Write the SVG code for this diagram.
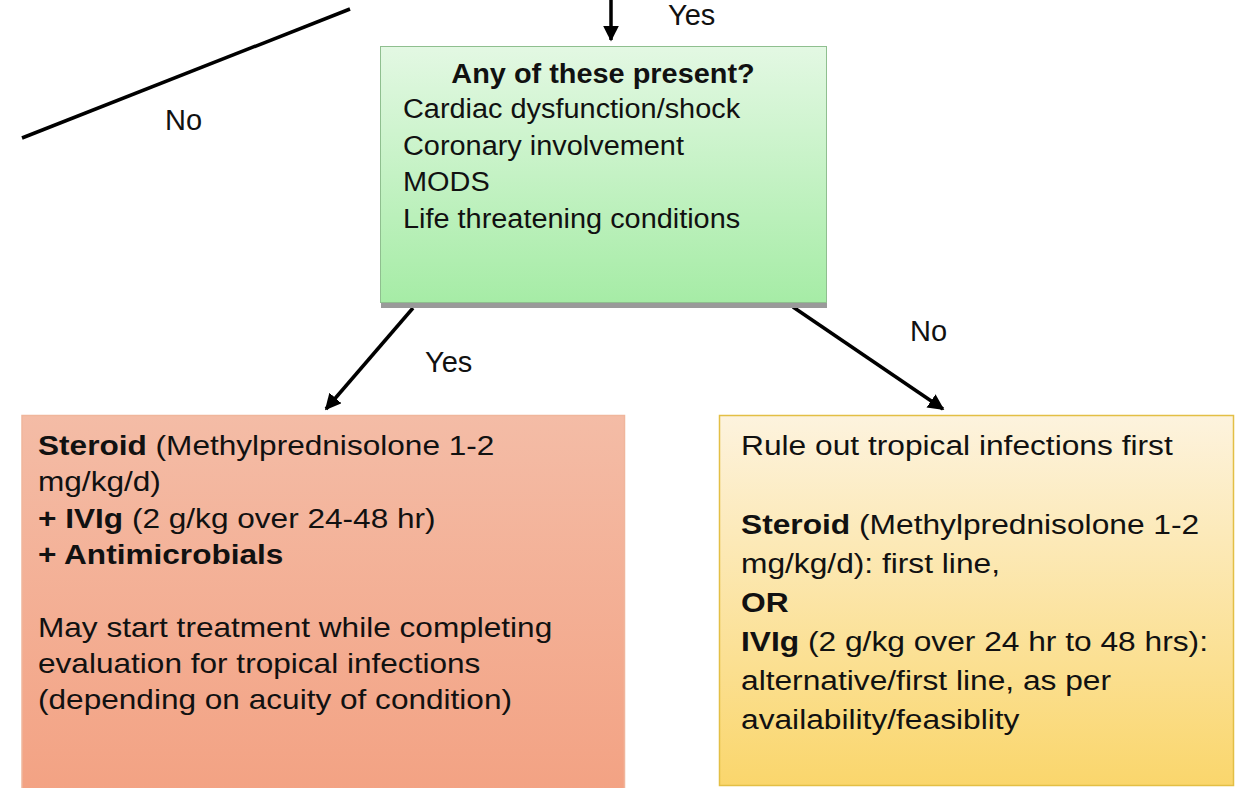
<svg xmlns="http://www.w3.org/2000/svg" width="1238" height="788" viewBox="0 0 1238 788">
<style>
text{font-family:"Liberation Sans",Arial,sans-serif;fill:#111}
.t{font-size:27px}
.b{font-weight:bold}
.lbl{font-size:29px}
.edge{stroke:#000;stroke-width:3.5;fill:none}
</style>
<defs>
<linearGradient id="gGreen" x1="0" y1="0" x2="0" y2="1">
<stop offset="0" stop-color="#e3f8e3"/>
<stop offset="1" stop-color="#a6eca6"/>
</linearGradient>
<linearGradient id="gSalmon" x1="0" y1="0" x2="0" y2="1">
<stop offset="0" stop-color="#f4bca6"/>
<stop offset="1" stop-color="#f3a283"/>
</linearGradient>
<linearGradient id="gYellow" x1="0" y1="0" x2="0" y2="1">
<stop offset="0" stop-color="#fdf3de"/>
<stop offset="1" stop-color="#fad66c"/>
</linearGradient>
<marker id="arr" viewBox="0 0 10 10" refX="9" refY="5" markerWidth="4.6" markerHeight="4.6" orient="auto" markerUnits="strokeWidth">
<path d="M0,0 L10,5 L0,10 Z" fill="#000"/>
</marker>
</defs>
<rect width="1238" height="788" fill="#fff"/>

<g id="connectors">
<line class="edge" x1="22" y1="138" x2="350" y2="9"/>
<line class="edge" x1="611" y1="0" x2="611" y2="40" marker-end="url(#arr)"/>
<line class="edge" x1="413" y1="308" x2="326" y2="409" marker-end="url(#arr)"/>
<line class="edge" x1="793" y1="307" x2="943" y2="409" marker-end="url(#arr)"/>
<text class="lbl" x="165" y="130">No</text>
<text class="lbl" x="668" y="25">Yes</text>
<text class="lbl" x="425" y="372">Yes</text>
<text class="lbl" x="910" y="341">No</text>
</g>

<g id="node-question">
<rect x="381" y="53" width="446" height="255" fill="#9a9a9a"/>
<rect x="380.5" y="46.5" width="446" height="256" fill="url(#gGreen)" stroke="#8fbf8f" stroke-width="1"/>
<text class="t b" text-anchor="middle" transform="translate(603,83) scale(1.07,1)">Any of these present?</text>
<text class="t" transform="translate(403,118) scale(1.07,1)">Cardiac dysfunction/shock</text>
<text class="t" transform="translate(403,155) scale(1.07,1)">Coronary involvement</text>
<text class="t" transform="translate(403,191) scale(1.07,1)">MODS</text>
<text class="t" transform="translate(403,228) scale(1.07,1)">Life threatening conditions</text>
</g>

<g id="node-yes">
<rect x="22" y="415.5" width="602.5" height="380" fill="url(#gSalmon)" stroke="#f0b69c" stroke-width="1.5"/>
<text class="t" transform="translate(38,455) scale(1.17,1)"><tspan class="b">Steroid</tspan> (Methylprednisolone 1-2</text>
<text class="t" transform="translate(38,491) scale(1.17,1)">mg/kg/d)</text>
<text class="t" transform="translate(38,528) scale(1.17,1)"><tspan class="b">+ IVIg</tspan> (2 g/kg over 24-48 hr)</text>
<text class="t b" transform="translate(38,564) scale(1.17,1)">+ Antimicrobials</text>
<text class="t" transform="translate(38,637) scale(1.17,1)">May start treatment while completing</text>
<text class="t" transform="translate(38,673) scale(1.17,1)">evaluation for tropical infections</text>
<text class="t" transform="translate(38,709) scale(1.17,1)">(depending on acuity of condition)</text>
</g>

<g id="node-no">
<rect x="719.5" y="415.5" width="514" height="370" fill="url(#gYellow)" stroke="#e3bf45" stroke-width="1.5"/>
<text class="t" transform="translate(741,455) scale(1.175,1)">Rule out tropical infections first</text>
<text class="t" transform="translate(741,534) scale(1.175,1)"><tspan class="b">Steroid</tspan> (Methylprednisolone 1-2</text>
<text class="t" transform="translate(741,573) scale(1.175,1)">mg/kg/d): first line,</text>
<text class="t b" transform="translate(741,612) scale(1.175,1)">OR</text>
<text class="t" transform="translate(741,651) scale(1.175,1)"><tspan class="b">IVIg</tspan> (2 g/kg over 24 hr to 48 hrs):</text>
<text class="t" transform="translate(741,690) scale(1.175,1)">alternative/first line, as per</text>
<text class="t" transform="translate(741,729) scale(1.175,1)">availability/feasiblity</text>
</g>
</svg>
